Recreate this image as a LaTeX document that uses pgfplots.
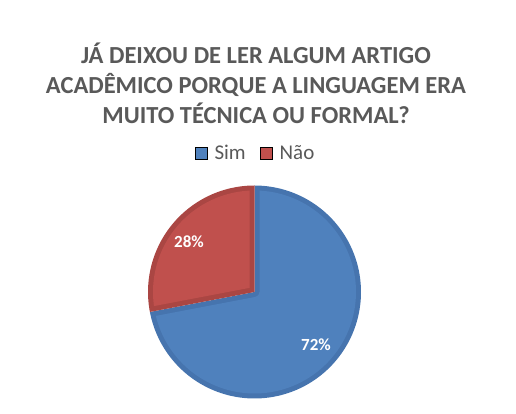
\documentclass[border=0pt]{standalone}
\usepackage{fontspec}
\setmainfont{Carlito}
\usepackage{pgfplots}
\usepackage{pgfplotstable}
\pgfplotsset{compat=1.18}

\definecolor{simfill}{HTML}{4F81BD}
\definecolor{simedge}{HTML}{4674AE}
\definecolor{naofill}{HTML}{C0504D}
\definecolor{naoedge}{HTML}{AA4643}
\definecolor{titlegray}{HTML}{595959}

% answers in percent
\pgfplotstableread{
resposta valor
Sim 72
Nao 28
}\pietable
\pgfplotstablegetelem{0}{valor}\of\pietable \let\vsim\pgfplotsretval
\pgfplotstablegetelem{1}{valor}\of\pietable \let\vnao\pgfplotsretval

% geometry (1 unit = 1 px of the reference)
\def\cx{254.5}
\def\cy{122}
\def\R{106.5}
\def\d{5}
\pgfmathsetmacro\aA{90-3.6*\vsim}   % Sim runs clockwise from 12 o'clock
\pgfmathsetmacro\aB{90+3.6*\vnao}   % Nao fills the rest
\pgfmathsetmacro\dl{asin(\d/(\R-\d))}
\pgfmathsetmacro\Ri{\R-\d}
% Sim inner corner (reflex)
\pgfmathsetmacro\sAx{\cx+\d}
\pgfmathsetmacro\sAy{\cy}
\pgfmathsetmacro\sBx{\cx+\d*cos((\aA+90)/2)}
\pgfmathsetmacro\sBy{\cy+\d*sin((\aA+90)/2)}
\pgfmathsetmacro\sCx{\cx+\d*cos(\aA+90)}
\pgfmathsetmacro\sCy{\cy+\d*sin(\aA+90)}
% Nao inner apex
\pgfmathsetmacro\hn{(\aB-90)/2}
\pgfmathsetmacro\nAx{\cx+\d/sin(\hn)*cos(90+\hn)}
\pgfmathsetmacro\nAy{\cy+\d/sin(\hn)*sin(90+\hn)}

\begin{document}
\begin{tikzpicture}
\begin{axis}[
    width=516bp, height=414bp, scale only axis,
    xmin=0, xmax=516, ymin=0, ymax=414,
    hide axis, clip=false,
    legend columns=2,
    legend style={at={(axis cs:255.5,261)}, anchor=center, draw=none, fill=none,
        font=\fontsize{21bp}{24bp}\selectfont, text=titlegray,
        /tikz/every odd column/.append style={column sep=5bp},
        /tikz/every even column/.append style={column sep=12bp},
        inner sep=0pt},
    legend image code/.code={\fill[#1] (0bp,-6.5bp) rectangle (12.5bp,6bp);},
]
\path (axis cs:0,0) rectangle (axis cs:516,414);

% Sim
\addplot[forget plot, fill=simedge, draw=none, domain=\aA:90, samples=150, variable=\t]
    ({\cx+\R*cos(\t)}, {\cy+\R*sin(\t)}) -- (axis cs:\cx,\cy) -- cycle;
\addplot[forget plot, fill=simfill, draw=none, domain=\aA+\dl:90-\dl, samples=150, variable=\t]
    ({\cx+\Ri*cos(\t)}, {\cy+\Ri*sin(\t)})
    -- (axis cs:\sAx,\sAy) -- (axis cs:\sBx,\sBy) -- (axis cs:\sCx,\sCy) -- cycle;
% Nao
\addplot[forget plot, fill=naoedge, draw=none, domain=90:\aB, samples=80, variable=\t]
    ({\cx+\R*cos(\t)}, {\cy+\R*sin(\t)}) -- (axis cs:\cx,\cy) -- cycle;
\addplot[forget plot, fill=naofill, draw=none, domain=90+\dl:\aB-\dl, samples=80, variable=\t]
    ({\cx+\Ri*cos(\t)}, {\cy+\Ri*sin(\t)}) -- (axis cs:\nAx,\nAy) -- cycle;

\addlegendimage{fill=simfill}
\addlegendentry{Sim}
\addlegendimage{fill=naofill}
\addlegendentry{Não}

\node[text=white, font=\fontsize{17bp}{20bp}\selectfont\bfseries] at (axis cs:316,69) {\vsim\%};
\node[text=white, font=\fontsize{17bp}{20bp}\selectfont\bfseries] at (axis cs:189,172) {\vnao\%};

\node[align=center, text=titlegray, font=\fontsize{24.5bp}{30bp}\selectfont\bfseries]
    at (axis cs:256,331) {JÁ DEIXOU DE LER ALGUM ARTIGO\\ACADÊMICO PORQUE A LINGUAGEM ERA\\MUITO TÉCNICA OU FORMAL?};
\end{axis}
\end{tikzpicture}
\end{document}
